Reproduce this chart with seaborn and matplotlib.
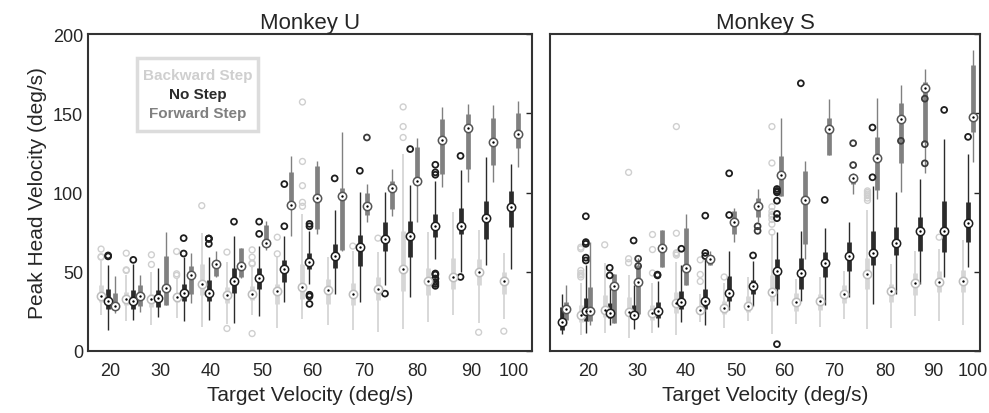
import numpy as np
import pandas as pd
import matplotlib
matplotlib.use("Agg")
import matplotlib.pyplot as plt
import seaborn as sns
from matplotlib.patches import Rectangle

# target velocities (deg/s)
vel_u = [20, 25, 30, 35, 40, 45, 50, 55, 60, 65, 70, 75, 80, 85, 90, 95, 100]
vel_s = [15, 20, 25, 30, 35, 40, 45, 50, 55, 60, 65, 70, 75, 80, 85, 90, 95, 100]

# box stats per target velocity: (whisker low, q1, median, q3, whisker high)
u_back = [(22.5, 30.9, 34.9, 41.4, 57), (18.7, 28.8, 32.8, 37.2, 48), (16.2, 27.6, 32.8, 36.0, 50),
          (21, 31.0, 33.9, 36.8, 46), (15.2, 35.5, 42.5, 55, 74.5), (17.3, 30.5, 35.5, 40.4, 56.1),
          (22.5, 32, 36.2, 41, 54), (14.2, 29.9, 37.6, 42.5, 60), (20.4, 33, 40.4, 55, 86.5),
          (16.2, 29.9, 38.7, 45.6, 59.2), (13.3, 28.8, 36.2, 43.1, 63.4), (12.1, 32, 39.3, 46.7, 62.4),
          (13.7, 37.6, 51.9, 75.4, 124.2), (18.3, 35.5, 44.1, 52.3, 75), (22.5, 39.3, 46.7, 58.6, 87.5),
          (17.9, 41.8, 49.8, 58.2, 76.4), (20, 36, 44, 50, 62)]
u_none = [(13.5, 26.7, 31.3, 38.9, 54), (19.4, 26.7, 31.8, 38.5, 55), (21.5, 28.0, 33.2, 38.5, 52.5),
          (19, 31.3, 36.6, 42.5, 59.2), (19.4, 31.3, 36.8, 44.5, 59.2), (17.7, 36.8, 44.3, 52.3, 72.4),
          (21.9, 38.9, 46, 52.3, 66.5), (30.9, 43.5, 51.5, 57.1, 72.8), (42.5, 51.5, 56.1, 61.7, 76),
          (36.2, 52.3, 59.9, 67.6, 89.2), (30.9, 53.6, 65.3, 73.3, 100.5), (41.4, 63.4, 70.8, 81.2, 100.1),
          (34.1, 59.2, 72.8, 82.3, 104.7), (58.2, 71.8, 78.7, 86.5, 107.4), (49.8, 73.9, 78.7, 90, 114.3),
          (54, 70.8, 84, 94.8, 122.1), (52, 78, 91, 101, 118)]
u_fwd = [(24.2, 26.7, 28.6, 36.8, 47.3), (24.5, 28.2, 34.5, 41.4, 47.7), (28.8, 28.8, 39.9, 59.9, 75),
         (30.5, 36.2, 48.1, 53.6, 61.9), (47, 47.3, 55.2, 57.1, 62.8), (46, 47, 53.6, 64.9, 64.9),
         (63.6, 66.2, 68.2, 79.6, 82.3), (72.8, 89.6, 92.3, 113, 123), (73.9, 77, 96.3, 117, 120),
         (63, 64, 98, 102.6, 137.9), (81.2, 86, 91.3, 99.7, 105.3), (85.4, 89.6, 102.8, 107.4, 114.8),
         (81.2, 106.4, 107.4, 128.4, 134.7), (103.2, 111.6, 133.2, 146.2, 154.2),
         (106.8, 114.8, 140.6, 149.8, 155.7), (106.4, 117.5, 131.6, 146.9, 155), (116, 128, 137, 150, 158)]

s_back = [None, (9.9, 18.4, 22.5, 28.8, 43.1), (11.6, 21.5, 25.7, 35.5, 55.5), (8.3, 22.5, 24.7, 34.1, 47.7),
          (11.6, 19.4, 24.2, 29.2, 43.1), (9.9, 24.2, 30.3, 37.2, 56), (18.4, 24.2, 26.1, 27.8, 36.2),
          (14.2, 23.6, 27.4, 31.6, 43), (18.8, 24.7, 28.2, 34.7, 46.7), (11, 31.3, 37.2, 47.7, 73.9),
          (17.3, 25, 30.9, 36.6, 45.6), (15.2, 25.7, 31.3, 36.2, 46.7), (20, 30.5, 36.2, 41.4, 50.2),
          (13.7, 39.3, 48.3, 58.6, 89.2), (14.2, 30.9, 38, 42.5, 55), (22.1, 35.5, 42.9, 49.4, 63.4),
          (18.8, 37.2, 43.5, 50.2, 64.5), (16.7, 37.2, 43.9, 51.4, 70.3)]
s_none = [(11, 13.1, 18.4, 27.8, 36.2), (11.6, 18.8, 25, 33.5, 54.4), (16.2, 20.9, 24, 30.5, 41.4),
          (13.7, 20, 23, 29.2, 41.4), (15.2, 20.9, 25.3, 30.9, 44), (18.4, 26.3, 30.9, 37.6, 54.4),
          (16.2, 26.3, 31.6, 39.3, 58), (25.7, 31.3, 36.6, 47.3, 62.8), (28.4, 35.7, 41, 44.5, 56.7),
          (28.8, 39.3, 50.4, 58.2, 75), (31.3, 39.3, 49.2, 58.6, 76), (29.2, 46.7, 55.5, 62.4, 77.5),
          (34.1, 50.2, 59.9, 69, 81.3), (29.9, 54, 61.9, 76, 104), (36.2, 60.3, 68.2, 78.1, 100.1),
          (42.5, 62.8, 75.4, 84.4, 108.5), (46.7, 62.4, 75.4, 94.8, 134), (53, 69, 80.8, 94.2, 124.2)]
s_fwd = [(16.2, 19.4, 26.7, 30.9, 41.8), (16.7, 18.8, 25, 40.4, 69), (17.9, 17.9, 40.8, 48.7, 48.7),
         (23, 23.6, 43.5, 54.4, 58.6), (53, 53, 65.1, 76.6, 76.6), (41.8, 41.8, 52.3, 77.5, 86.5),
         (54.4, 54.4, 58.2, 59.2, 62.8), (69, 73.9, 81.3, 88.6, 90), (81.3, 84.4, 91.3, 96.3, 102.2),
         (98, 98, 111, 122.8, 146.7), (58.2, 67.6, 95.3, 113.7, 120), (123.6, 123.6, 139.9, 147.3, 159.2),
         (99, 105.3, 108.9, 111.6, 112.3), (95.9, 101.8, 121.5, 135.3, 159.9),
         (100.1, 118.6, 146.2, 156.3, 167.6), (112.3, 131.6, 165.7, 169.7, 178.1), None,
         (119, 138.2, 147.7, 180.2, 189.8)]

# outliers per target velocity
u_back_out = {20: [59.2, 59.5, 64.3], 25: [50.8, 51.2, 61.7], 30: [60.7, 54.6], 35: [62.8, 48.7, 47.7],
              40: [91.7], 45: [62.4, 14.2], 50: [63.8, 59.2, 55, 55.5, 11], 55: [71.8, 61.3],
              60: [104.3, 93.8, 91.3, 157.1, 119.6], 70: [66.2], 75: [71.2], 80: [154, 141.6, 134.7],
              95: [11.8], 100: [12.5]}
u_none_out = {20: [59.7, 60.3], 25: [57.5], 35: [61.5, 71.2], 40: [70.8, 70.9, 71.0, 67.6], 45: [81.6],
              50: [81.6, 73.9], 55: [78.7, 105.3], 60: [78.7, 80.2, 34.5, 35.5, 29.7], 65: [108.9],
              70: [113.7], 75: [36.2], 80: [127.4],
              85: [117.5, 112.7, 111.2, 48.9, 48.2, 45.6, 45.7, 43.5, 42.3, 41.1], 90: [46.7, 123.1]}
u_fwd_out = {70: [134.7]}

s_back_out = {20: [46.7, 50.8, 48, 49, 64.5, 65.5], 25: [67], 30: [58.2, 55.7, 112.7], 35: [73.5, 64, 49.2],
              40: [74.3, 60.5, 61.5, 62, 141.6], 45: [57.5, 48.3, 43.9], 50: [46.7],
              60: [75, 80, 85, 91, 86, 88, 83, 141.6, 118.6], 80: [95, 96.5, 98, 99, 100, 101], 95: [71.8]}
s_none_out = {20: [85, 68.7, 67.6, 57.1, 58.9], 25: [52.5, 47.7], 30: [69.7], 35: [47.7, 48.2], 40: [64.5],
              45: [85.4, 61.9, 59.9], 50: [85.8, 112.1], 55: [60.3],
              60: [102.2, 100.1, 94.8, 86.5, 83.8, 4.3, 101], 65: [168.9], 70: [95.3], 80: [109.6, 141],
              95: [152.1], 100: [135.1]}
s_fwd_out = {30: [58.2, 53.6], 55: [78.7, 75.8], 75: [131.1, 117.3], 85: [132.6], 90: [159.2, 130.5, 118.4]}

conditions = ["Backward Step", "No Step", "Forward Step"]
box_colors = {"Backward Step": "#d6d6d6", "No Step": "#2b2b2b", "Forward Step": "#808080"}
out_colors = {"Backward Step": "#cfcfcf", "No Step": "#1e1e1e", "Forward Step": "#3c3c3c"}
ring_colors = {"Backward Step": "#bdbdbd", "No Step": "#1e1e1e", "Forward Step": "#555555"}


def to_frames(vels, stats, outs, offsets):
    rows, orows = [], []
    for cond, st, ou in zip(conditions, stats, outs):
        for v, s in zip(vels, st):
            if s is None:
                continue
            lo, q1, med, q3, hi = s
            rows.append(dict(cond=cond, x=v + offsets[cond], lo=lo, q1=q1, med=med, q3=q3, hi=hi))
        for v, vals in ou.items():
            for val in vals:
                orows.append(dict(cond=cond, x=v + offsets[cond], value=val))
    return pd.DataFrame(rows), pd.DataFrame(orows)


def draw_panel(ax, box_df, out_df, title):
    for cond in conditions:
        b = box_df[box_df["cond"] == cond]
        col = box_colors[cond]
        ax.vlines(b["x"], b["lo"], b["hi"], color=col, lw=1.3 if cond == "Backward Step" else 1.0, zorder=2)
        ax.vlines(b["x"], b["q1"], b["q3"], color=col, lw=3.4, zorder=3)
        o = out_df[out_df["cond"] == cond]
        if len(o):
            sns.scatterplot(data=o, x="x", y="value", ax=ax, s=18, marker="o", facecolor="none",
                            edgecolor=out_colors[cond], linewidth=1.3 if cond != "Backward Step" else 1.0,
                            zorder=4, legend=False)
        sns.scatterplot(data=b, x="x", y="med", ax=ax, s=36, marker="o", color="white",
                        edgecolor=ring_colors[cond], linewidth=1.1, zorder=5, legend=False)
        sns.scatterplot(data=b, x="x", y="med", ax=ax, s=3, marker="o", color="black",
                        edgecolor="black", linewidth=0, zorder=6, legend=False)
    ax.set_ylim(0, 200)
    ax.set_yticks([0, 50, 100, 150, 200])
    ax.set_title(title, fontsize=16, pad=4)
    ax.set_xlabel("Target Velocity (deg/s)", fontsize=15)
    ax.tick_params(axis="y", direction="in", length=4, right=True, labelsize=13, width=1)
    ax.tick_params(axis="x", length=0, labelsize=13, pad=8)
    for sp in ax.spines.values():
        sp.set_color("#333333")
        sp.set_linewidth(1.5)


sns.set_theme(style="white")
plt.rcParams["font.family"] = ["Liberation Sans", "DejaVu Sans"]

fig = plt.figure(figsize=(9.89, 4.14), dpi=100)
ax_u = fig.add_axes([88 / 989, 1 - 352 / 414, 444 / 989, 317 / 414])
ax_s = fig.add_axes([550 / 989, 1 - 352 / 414, 430 / 989, 317 / 414])

off_u = {"Backward Step": -1.4, "No Step": 0.0, "Forward Step": 1.4}
off_s = {"Backward Step": -1.05, "No Step": 0.0, "Forward Step": 0.95}

box_u, out_u = to_frames(vel_u, [u_back, u_none, u_fwd], [u_back_out, u_none_out, u_fwd_out], off_u)
box_s, out_s = to_frames(vel_s, [s_back, s_none, s_fwd], [s_back_out, s_none_out, s_fwd_out], off_s)

draw_panel(ax_u, box_u, out_u, "Monkey U")
draw_panel(ax_s, box_s, out_s, "Monkey S")

tick_labels = ["20", "30", "40", "50", "60", "70", "80", "90", "100"]
tick_pos_u = [20.4, 30.3, 40.4, 50.7, 60.6, 70.9, 81.4, 92.1, 100.6]
tick_pos_s = [20.4, 30.8, 41.0, 51.5, 61.5, 71.9, 82.7, 92.7, 101.0]

ax_u.set_xlim(16.0, 104.2)
ax_u.set_xticks(tick_pos_u)
ax_u.set_xticklabels(tick_labels)
ax_u.set_ylabel("Peak Head Velocity (deg/s)", fontsize=15)

ax_s.set_xlim(12.5, 102.5)
ax_s.set_xticks(tick_pos_s)
ax_s.set_xticklabels(tick_labels)
ax_s.set_yticklabels([])
ax_s.set_ylabel("")

# legend box
ax_u.add_patch(Rectangle((0.110, 0.694), 0.273, 0.230, transform=ax_u.transAxes,
                         facecolor="white", edgecolor="#dcdcdc", lw=2.5, zorder=7))
for cond, yy in zip(conditions, [0.872, 0.811, 0.751]):
    ax_u.text(0.247, yy, cond, transform=ax_u.transAxes, ha="center", va="center",
              fontsize=11, fontweight="bold", color=box_colors[cond] if cond != "Backward Step" else "#cfcfcf",
              zorder=8)

fig.savefig("out.png", dpi=100)
